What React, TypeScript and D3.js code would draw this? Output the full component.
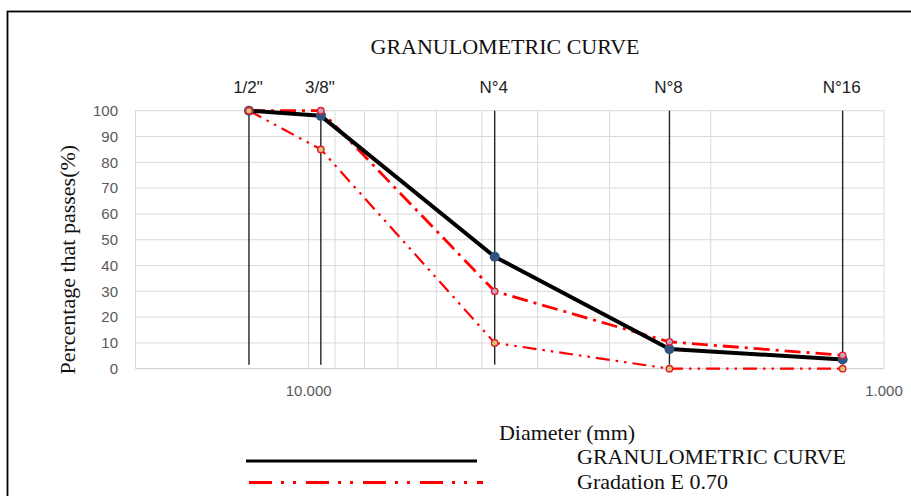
import React from "react";
import * as d3 from "d3";

// ---- data ----
const sieveLabels = ['1/2"', '3/8"', "N°4", "N°8", "N°16"];
const sieveDiameters = [12.7, 9.525, 4.75, 2.36, 1.18];
const granulometricCurve = [100, 98, 43.4, 7.6, 3.6];
const upperLimit = [100, 100, 30, 10.4, 5.2];
const lowerLimit = [100, 85, 10, 0, 0];
const yTicks = [0, 10, 20, 30, 40, 50, 60, 70, 80, 90, 100];
const xGridValues = [20, 10, 9, 8, 7, 6, 5, 4, 3, 2, 1];
const xTickLabels = [10, 1];

const W = 911;
const H = 496;
const SERIF = "'Liberation Serif', 'Times New Roman', serif";
const SANS = "'Liberation Sans', Arial, sans-serif";

export default function App() {
  const x = d3.scaleLog().domain([20, 1]).range([135.5, 884]);
  const y = d3.scaleLinear().domain([0, 100]).range([368.7, 110.7]);
  const fmt = d3.format(".3f");

  const mkLine = (vals: number[]) =>
    d3
      .line<number>()
      .x((_, i) => x(sieveDiameters[i]))
      .y((v) => y(v))(vals) as string;

  const plotTop = y(100);
  const plotBottom = y(0);

  return (
    <svg
      width={W}
      height={H}
      style={{ position: "absolute", left: 0, top: 0, background: "#fff" }}
    >
      <rect x={0} y={0} width={W} height={H} fill="#fff" />
      {/* frame */}
      <rect x={7.5} y={11.5} width={W + 20} height={H + 20} fill="none" stroke="#000" strokeWidth={1.8} />

      {/* title */}
      <text x={505} y={54} textAnchor="middle" fontFamily={SERIF} fontSize={22} fill="#111">
        GRANULOMETRIC CURVE
      </text>

      {/* horizontal gridlines */}
      {yTicks.map((t) => (
        <line
          key={"h" + t}
          x1={x(20)}
          x2={x(1)}
          y1={y(t)}
          y2={y(t)}
          stroke={t === 0 ? "#c8c8c8" : "#d9d9d9"}
          strokeWidth={1}
        />
      ))}
      {/* vertical gridlines */}
      {xGridValues.map((v) => (
        <line
          key={"v" + v}
          x1={x(v)}
          x2={x(v)}
          y1={plotTop}
          y2={plotBottom}
          stroke="#d9d9d9"
          strokeWidth={1}
        />
      ))}

      {/* y tick labels */}
      {yTicks.map((t) => (
        <text
          key={"yl" + t}
          x={118}
          y={y(t)}
          dy="0.35em"
          textAnchor="end"
          fontFamily={SANS}
          fontSize={15}
          fill="#595959"
        >
          {t}
        </text>
      ))}
      {/* x tick labels */}
      {xTickLabels.map((v) => (
        <text
          key={"xl" + v}
          x={x(v)}
          y={396}
          textAnchor="middle"
          fontFamily={SANS}
          fontSize={15}
          fill="#595959"
        >
          {fmt(v)}
        </text>
      ))}

      {/* sieve vertical lines & labels */}
      {sieveDiameters.map((d, i) => (
        <g key={"s" + i}>
          <line
            x1={x(d)}
            x2={x(d)}
            y1={plotTop}
            y2={plotBottom - 4}
            stroke="#222"
            strokeWidth={1.4}
          />
          <text
            x={x(d) - 1}
            y={93}
            textAnchor="middle"
            fontFamily={SANS}
            fontSize={17}
            fill="#222"
          >
            {sieveLabels[i]}
          </text>
        </g>
      ))}

      {/* lower limit */}
      <path
        d={mkLine(lowerLimit)}
        fill="none"
        stroke="#ff0000"
        strokeWidth={2.2}
        strokeDasharray="14,6,2.5,6,2.5,6"
      />
      {/* upper limit */}
      <path
        d={mkLine(upperLimit)}
        fill="none"
        stroke="#ff0000"
        strokeWidth={2.8}
        strokeDasharray="16,6,3,6"
      />
      {/* granulometric curve */}
      <path d={mkLine(granulometricCurve)} fill="none" stroke="#000" strokeWidth={4} strokeLinejoin="round" />

      {/* markers */}
      {granulometricCurve.map((v, i) => (
        <circle key={"g" + i} cx={x(sieveDiameters[i])} cy={y(v)} r={5} fill="#2f5482" />
      ))}
      {upperLimit.map((v, i) => (
        <circle
          key={"u" + i}
          cx={x(sieveDiameters[i])}
          cy={y(v)}
          r={3.2}
          fill="#c7a3c0"
          stroke="#e0202a"
          strokeWidth={1.4}
        />
      ))}
      {lowerLimit.map((v, i) => (
        <circle
          key={"l" + i}
          cx={x(sieveDiameters[i])}
          cy={y(v)}
          r={3.2}
          fill="#d8c77a"
          stroke="#e0202a"
          strokeWidth={1.4}
        />
      ))}

      {/* axis titles */}
      <text
        transform={`translate(75,${(plotTop + plotBottom) / 2 + 20}) rotate(-90)`}
        textAnchor="middle"
        fontFamily={SERIF}
        fontSize={22}
        fill="#111"
      >
        Percentage that passes(%)
      </text>
      <text x={567} y={440} textAnchor="middle" fontFamily={SERIF} fontSize={22} fill="#111">
        Diameter (mm)
      </text>

      {/* legend */}
      <line x1={246} x2={477} y1={461} y2={461} stroke="#000" strokeWidth={3} />
      <text x={577} y={464} fontFamily={SERIF} fontSize={22} fill="#111">
        GRANULOMETRIC CURVE
      </text>
      <line
        x1={249}
        x2={483}
        y1={482.5}
        y2={482.5}
        stroke="#ff0000"
        strokeWidth={3}
        strokeDasharray="23,9,3,9,3,10"
      />
      <text x={577} y={489} fontFamily={SERIF} fontSize={22} fill="#111">
        Gradation E 0.70
      </text>
    </svg>
  );
}
